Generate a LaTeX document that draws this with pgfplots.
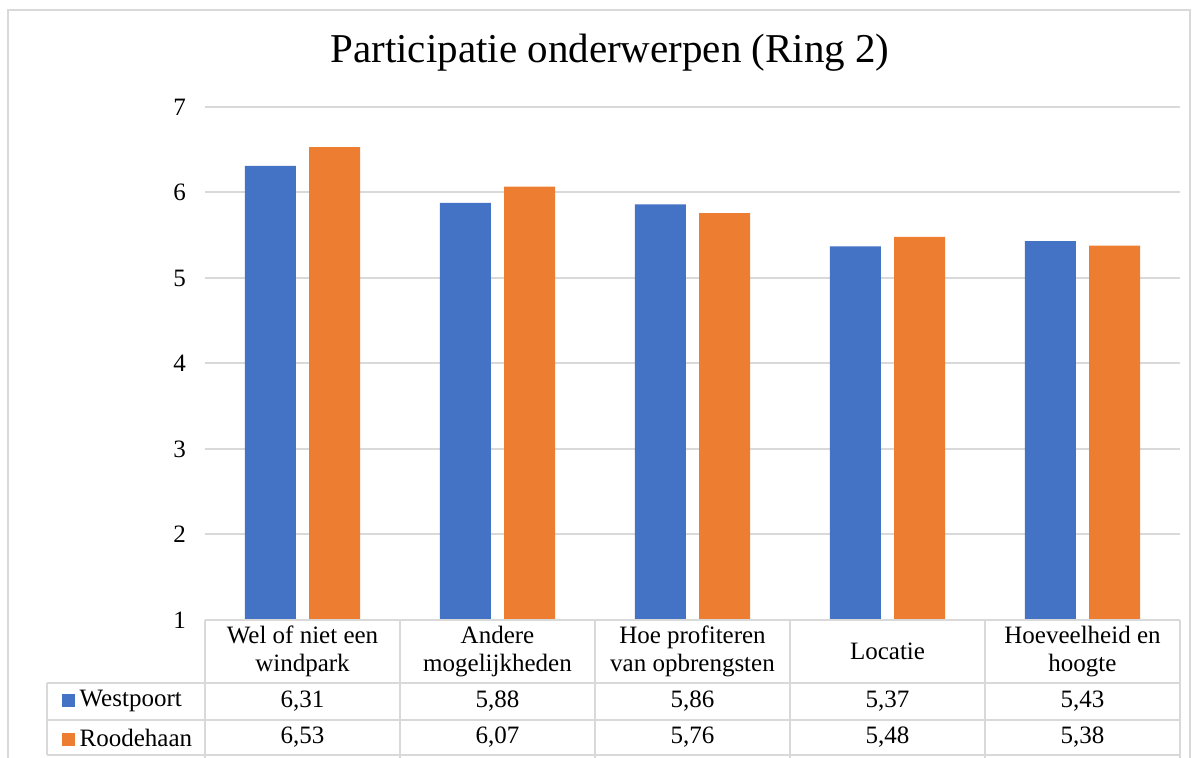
\documentclass[border=0pt]{standalone}
\usepackage{pgfplots}
\usepackage{pgfplotstable}
\pgfplotsset{compat=1.18}
\usepackage{fontspec}
\setmainfont{Liberation Serif}
\definecolor{cblue}{HTML}{4472C4}
\definecolor{corange}{HTML}{ED7D31}
\definecolor{gridc}{HTML}{D9D9D9}

\pgfplotstableread{
x west rood
0 6.31 6.53
1 5.88 6.07
2 5.86 5.76
3 5.37 5.48
4 5.43 5.38
}\data

\begin{document}
\begin{tikzpicture}
\path[use as bounding box] (0,0) rectangle (599.5pt,379pt);
\draw[gridc, line width=0.8pt] (4pt,-5pt) -- (4pt,374pt) -- (595pt,374pt) -- (595pt,-5pt);
\node at (305pt,352.5pt) {\fontsize{20.5}{24}\selectfont Participatie onderwerpen (Ring 2)};

\pgfplotsset{common/.style={scale only axis, width=487.5pt, height=256.5pt,
  at={(102.5pt,69pt)}, anchor=south west, xmin=-0.5, xmax=4.5, ymin=1, ymax=7,
  axis line style={draw=none}, major tick length=0pt,
  /pgf/number format/assume math mode=true}}

\begin{axis}[common, ybar, bar width=25.5pt, ytick={1,...,7}, ymajorgrids,
  grid style={gridc, line width=1pt}, xtick=\empty,
  yticklabel style={font=\fontsize{12.5}{14}\selectfont, xshift=-6pt}]
\addplot[fill=cblue, draw=none, bar shift=-16.1pt] table[x=x,y=west]{\data};
\addplot[fill=corange, draw=none, bar shift=16.1pt] table[x=x,y=rood]{\data};
\end{axis}

\begin{axis}[common, clip=false, ytick=\empty, xtick={0,...,4},
  xticklabels={{Wel of niet een\\windpark},{Andere\\mogelijkheden},{Hoe profiteren\\van opbrengsten},Locatie,{Hoeveelheid en\\hoogte}},
  xticklabel style={align=center, anchor=center, yshift=-15.75pt, font=\fontsize{12.5}{14}\selectfont},
  nodes near coords={\pgfmathprintnumber[fixed,fixed zerofill,precision=2,use comma,assume math mode=true]{\pgfplotspointmeta}},
  every node near coord/.append style={anchor=center, font=\fontsize{12.5}{14}\selectfont}]
% table lines
\draw[gridc, line width=1pt] (axis cs:-0.5,1) -- (axis cs:4.5,1);
\draw[gridc, line width=1pt] (axis cs:-1.31,0.263) -- (axis cs:4.5,0.263);
\draw[gridc, line width=1pt] (axis cs:-1.31,-0.170) -- (axis cs:4.5,-0.170);
\draw[gridc, line width=1pt] (axis cs:-1.31,-0.579) -- (axis cs:4.5,-0.579);
\draw[gridc, line width=1pt] (axis cs:-1.31,0.263) -- (axis cs:-1.31,-0.579);
\draw[gridc, line width=1pt] (axis cs:-0.5,1) -- (axis cs:-0.5,-0.65);
\draw[gridc, line width=1pt] (axis cs:0.5,1) -- (axis cs:0.5,-0.65);
\draw[gridc, line width=1pt] (axis cs:1.5,1) -- (axis cs:1.5,-0.65);
\draw[gridc, line width=1pt] (axis cs:2.5,1) -- (axis cs:2.5,-0.65);
\draw[gridc, line width=1pt] (axis cs:3.5,1) -- (axis cs:3.5,-0.65);
\draw[gridc, line width=1pt] (axis cs:4.5,1) -- (axis cs:4.5,-0.65);
\node[anchor=west, inner sep=0pt, font=\fontsize{12.5}{14}\selectfont] at (axis cs:-1.233,0.047) {\textcolor{cblue}{\rule{6.5pt}{6.5pt}}\,Westpoort};
\node[anchor=west, inner sep=0pt, font=\fontsize{12.5}{14}\selectfont] at (axis cs:-1.233,-0.374) {\textcolor{corange}{\rule{6.5pt}{6.5pt}}\,Roodehaan};
\addplot[draw=none, mark=none, point meta=explicit] table[x=x, y expr=0.047, meta=west]{\data};
\addplot[draw=none, mark=none, point meta=explicit] table[x=x, y expr=-0.374, meta=rood]{\data};
\end{axis}
\end{tikzpicture}
\end{document}
